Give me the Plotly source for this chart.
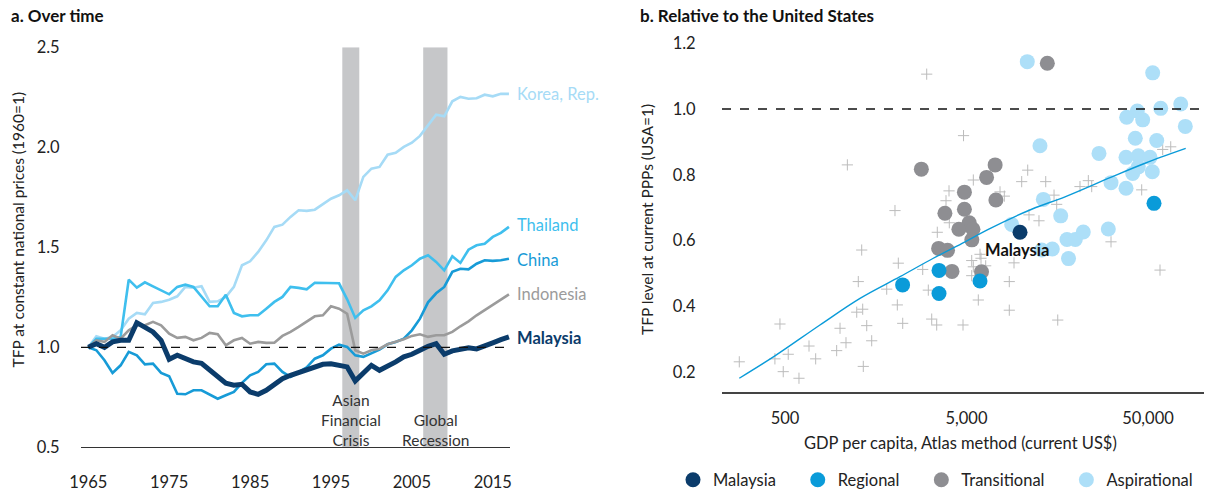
import plotly.graph_objects as go

FONT = "Lato"

# ---------------- Panel a: TFP over time ----------------
years = list(range(1965, 2018))

korea = [1.0, 1.055, 1.043, 1.052, 1.085, 1.143, 1.172, 1.165, 1.222, 1.227,
         1.238, 1.255, 1.302, 1.298, 1.305, 1.227, 1.23, 1.252, 1.302, 1.41,
         1.43, 1.477, 1.535, 1.602, 1.613, 1.652, 1.685, 1.682, 1.688, 1.715,
         1.743, 1.76, 1.785, 1.735, 1.852, 1.893, 1.902, 1.963, 1.973, 2.002,
         2.023, 2.057, 2.11, 2.163, 2.155, 2.23, 2.252, 2.243, 2.245, 2.263,
         2.255, 2.268, 2.267]
thailand = [1.0, 1.043, 1.043, 1.043, 1.052, 1.338, 1.298, 1.325, 1.305, 1.285,
            1.265, 1.302, 1.313, 1.302, 1.255, 1.205, 1.205, 1.263, 1.172, 1.155,
            1.16, 1.16, 1.193, 1.227, 1.252, 1.302, 1.297, 1.29, 1.323, 1.323,
            1.323, 1.32, 1.24, 1.147, 1.185, 1.205, 1.235, 1.285, 1.352, 1.385,
            1.41, 1.443, 1.46, 1.427, 1.385, 1.455, 1.422, 1.488, 1.51, 1.518,
            1.552, 1.572, 1.602]
china = [1.0, 0.985, 0.935, 0.872, 0.91, 0.977, 0.96, 0.915, 0.918, 0.872,
         0.855, 0.768, 0.765, 0.785, 0.785, 0.765, 0.743, 0.76, 0.777, 0.822,
         0.86, 0.877, 0.915, 0.918, 0.877, 0.852, 0.877, 0.9, 0.943, 0.96,
         0.993, 1.013, 1.002, 0.96, 0.952, 0.968, 0.988, 1.015, 1.027, 1.043,
         1.085, 1.143, 1.225, 1.27, 1.302, 1.377, 1.393, 1.39, 1.418, 1.435,
         1.432, 1.435, 1.443]
indonesia = [1.0, 1.035, 1.027, 1.06, 1.043, 1.085, 1.11, 1.11, 1.127, 1.11,
             1.068, 1.047, 1.052, 1.035, 1.047, 1.072, 1.065, 1.01, 1.035, 1.047,
             1.018, 1.027, 1.022, 1.023, 1.057, 1.077, 1.102, 1.127, 1.155, 1.16,
             1.205, 1.193, 1.168, 0.985, 0.968, 0.985, 0.993, 1.015, 1.027, 1.04,
             1.057, 1.065, 1.052, 1.06, 1.06, 1.077, 1.105, 1.13, 1.16, 1.185,
             1.213, 1.238, 1.265]
malaysia = [1.0, 1.018, 1.0, 1.027, 1.035, 1.035, 1.123, 1.097, 1.077, 1.035,
            0.94, 0.96, 0.943, 0.927, 0.92, 0.885, 0.85, 0.82, 0.81, 0.815,
            0.777, 0.765, 0.785, 0.818, 0.843, 0.86, 0.875, 0.89, 0.905, 0.915,
            0.918, 0.91, 0.902, 0.832, 0.872, 0.91, 0.885, 0.905, 0.927, 0.952,
            0.965, 0.985, 1.005, 1.018, 0.965, 0.982, 0.993, 0.998, 0.992, 1.01,
            1.022, 1.038, 1.052]

crisis_start = [1996.4, 2006.4]
crisis_end = [1998.5, 2009.4]
crisis_labels = ["Asian<br>Financial<br>Crisis", "Global<br>Recession"]
crisis_label_y = [0.635, 0.5875]

left_yticks = [0.5, 1.0, 1.5, 2.0, 2.5]
left_xticks = [1965, 1975, 1985, 1995, 2005, 2015]

# ---------------- Panel b: relative to the US ----------------
mys_gdp = [9860]
mys_tfp = [0.625]

reg_gdp = [2223, 3528, 3528, 5935, 53960]
reg_tfp = [0.465, 0.509, 0.439, 0.477, 0.713]

tra_gdp = [2820, 4870, 7190, 6450, 7260, 3802, 4870, 5175, 4540, 5425, 5350,
           3510, 3930, 4160, 6050, 13940]
tra_tfp = [0.817, 0.747, 0.830, 0.792, 0.723, 0.683, 0.695, 0.654, 0.634, 0.634,
           0.602, 0.576, 0.570, 0.506, 0.505, 1.139]

asp_gdp = [10810, 53070, 43650, 38150, 46750, 58750, 75730, 80270, 42560, 55850,
           12700, 26850, 37830, 44220, 51290, 44220, 41180, 52800, 31270, 37830,
           13250, 16520, 8870, 17890, 19880, 22000, 30220, 12980, 14850, 18240]
asp_tfp = [1.144, 1.110, 0.994, 0.975, 0.967, 1.002, 1.015, 0.947, 0.911, 0.904,
           0.888, 0.865, 0.853, 0.858, 0.853, 0.824, 0.804, 0.809, 0.776, 0.759,
           0.725, 0.675, 0.649, 0.603, 0.603, 0.626, 0.635, 0.571, 0.574, 0.545]

oth_gdp = [3018, 4815, 1103, 4005, 3855, 2018, 4020, 5452, 10870, 10070, 13660,
           7650, 8080, 15180, 15700, 21100, 23450, 24480, 11050, 12540, 46160,
           60250, 66700, 3452, 1323, 2105, 2869, 1267, 1817, 3080, 2079, 1242,
           1340, 2226, 3216, 3426, 4783, 469, 1005, 1410, 678, 1084, 1502, 963,
           521, 440, 738, 280, 489, 597, 1350, 5935, 6010, 5342, 5452, 6378,
           5342, 9135, 8605, 5808, 8605, 15910, 58230, 31270]
oth_tfp = [1.106, 0.919, 0.830, 0.751, 0.721, 0.691, 0.654, 0.784, 0.814, 0.779,
           0.779, 0.748, 0.735, 0.738, 0.710, 0.764, 0.782, 0.764, 0.678, 0.660,
           0.754, 0.877, 0.885, 0.625, 0.571, 0.531, 0.512, 0.475, 0.452, 0.449,
           0.404, 0.382, 0.391, 0.348, 0.361, 0.343, 0.343, 0.346, 0.333, 0.341,
           0.279, 0.289, 0.295, 0.265, 0.254, 0.240, 0.240, 0.231, 0.201, 0.181,
           0.217, 0.558, 0.546, 0.539, 0.520, 0.523, 0.493, 0.532, 0.475, 0.419,
           0.388, 0.358, 0.510, 0.596]

trend_gdp = [280, 440, 779, 1295, 2151, 3282, 4907, 6594, 11430, 17450, 31150,
             48140, 80670]
trend_tfp = [0.181, 0.249, 0.343, 0.424, 0.490, 0.546, 0.596, 0.634, 0.695,
             0.733, 0.792, 0.835, 0.880]

right_xticks = [500, 5000, 50000]
right_xticktext = ["500", "5,000", "50,000"]
right_yticks = [0.2, 0.4, 0.6, 0.8, 1.0, 1.2]

# ---------------- colours ----------------
C_KOR = "#a6dbf6"
C_THA = "#3fbfee"
C_CHN = "#179bd7"
C_IDN = "#9b9b9b"
C_MYS = "#0b3c6b"
C_REG = "#0a9bd9"
C_TRA = "#8e8e92"
C_ASP = "#addff8"
TXT = "#222222"

W, H = 1210, 492
FS = 16.5   # base text size

def px(x):
    return x / W

def py(y):
    return (H - y) / H

fig = go.Figure()

series = [("Korea, Rep.", korea, C_KOR, 2.6),
          ("Thailand", thailand, C_THA, 2.6),
          ("China", china, C_CHN, 2.6),
          ("Indonesia", indonesia, C_IDN, 2.6),
          ("Malaysia", malaysia, C_MYS, 5)]
for name, vals, col, w in series:
    fig.add_trace(go.Scatter(x=years, y=vals, mode="lines", name=name,
                             line=dict(color=col, width=w), showlegend=False,
                             xaxis="x", yaxis="y", hoverinfo="skip"))

# crisis bars
for s, e in zip(crisis_start, crisis_end):
    fig.add_shape(type="rect", xref="x", yref="y", x0=s, x1=e, y0=0.5, y1=2.5,
                  fillcolor="#c6c7c9", line=dict(width=0), layer="below")
# 1.0 reference line (panel a)
fig.add_shape(type="line", xref="x domain", yref="y", x0=0, x1=1, y0=1, y1=1,
              line=dict(color="#111111", width=1.3, dash="dash"))

# end labels
label_info = [("Korea, Rep.", korea[-1], C_KOR, False),
              ("Thailand", thailand[-1] + 0.01, C_THA, False),
              ("China", china[-1] - 0.005, C_CHN, False),
              ("Indonesia", indonesia[-1], C_IDN, False),
              ("Malaysia", malaysia[-1] - 0.005, C_MYS, True)]
for txt, yv, col, bold in label_info:
    fig.add_annotation(x=years[-1], y=yv, xref="x", yref="y", xanchor="left",
                       yanchor="middle", xshift=6, showarrow=False,
                       text=f"<b>{txt}</b>" if bold else txt,
                       font=dict(family=FONT, size=FS, color=col))

for s, e, t, yv in zip(crisis_start, crisis_end, crisis_labels, crisis_label_y):
    fig.add_annotation(x=(s + e) / 2, y=yv, xref="x", yref="y", text=t,
                       showarrow=False, align="center", xanchor="center",
                       yanchor="middle",
                       font=dict(family=FONT, size=15.5, color="#333333"))

# ---------------- panel b traces ----------------
fig.add_trace(go.Scatter(x=oth_gdp, y=oth_tfp, mode="markers", showlegend=False,
                         marker=dict(symbol="cross-thin", size=8,
                                     line=dict(width=1, color="#bcbcbc")),
                         xaxis="x2", yaxis="y2", hoverinfo="skip"))
NB = "\u00a0" * 4
fig.add_trace(go.Scatter(x=tra_gdp, y=tra_tfp, mode="markers", name="Transitional" + NB,
                         marker=dict(size=15, color=C_TRA), legendrank=3,
                         xaxis="x2", yaxis="y2"))
fig.add_trace(go.Scatter(x=asp_gdp, y=asp_tfp, mode="markers", name="Aspirational",
                         marker=dict(size=15, color=C_ASP), legendrank=4,
                         xaxis="x2", yaxis="y2"))
fig.add_trace(go.Scatter(x=reg_gdp, y=reg_tfp, mode="markers", name="Regional" + NB,
                         marker=dict(size=15, color=C_REG), legendrank=2,
                         xaxis="x2", yaxis="y2"))
fig.add_trace(go.Scatter(x=mys_gdp, y=mys_tfp, mode="markers", name="Malaysia" + NB,
                         marker=dict(size=15, color=C_MYS), legendrank=1,
                         xaxis="x2", yaxis="y2"))
fig.add_trace(go.Scatter(x=trend_gdp, y=trend_tfp, mode="lines", showlegend=False,
                         line=dict(color=C_REG, width=1.4, shape="spline"),
                         xaxis="x2", yaxis="y2", hoverinfo="skip"))

fig.add_shape(type="line", xref="x2 domain", yref="y2", x0=0, x1=1, y0=1, y1=1,
              line=dict(color="#111111", width=1.3, dash="dash"))

fig.add_annotation(x=3.9772, y=0.571, xref="x2", yref="y2", text="<b>Malaysia</b>",
                   showarrow=False, xanchor="center", yanchor="middle",
                   font=dict(family=FONT, size=FS, color="#111111"))

# titles & axis titles
fig.add_annotation(x=px(9), y=py(15), xref="paper", yref="paper", xanchor="left",
                   yanchor="middle", showarrow=False, text="<b>a. Over time</b>",
                   font=dict(family=FONT, size=17, color="#111111"))
fig.add_annotation(x=px(638), y=py(15), xref="paper", yref="paper", xanchor="left",
                   yanchor="middle", showarrow=False,
                   text="<b>b. Relative to the United States</b>",
                   font=dict(family=FONT, size=17, color="#111111"))
fig.add_annotation(x=px(17.5), y=py(230), xref="paper", yref="paper", textangle=-90,
                   xanchor="center", yanchor="middle",
                   showarrow=False, text="TFP at constant national prices (1960=1)",
                   font=dict(family=FONT, size=15.5, color=TXT))
fig.add_annotation(x=px(647), y=py(219), xref="paper", yref="paper", textangle=-90,
                   xanchor="center", yanchor="middle",
                   showarrow=False, text="TFP level at current PPPs (USA=1)",
                   font=dict(family=FONT, size=15.5, color=TXT))
fig.add_annotation(x=px(960), y=py(443), xref="paper", yref="paper",
                   xanchor="center", yanchor="middle",
                   showarrow=False, text="GDP per capita, Atlas method (current US$)",
                   font=dict(family=FONT, size=FS, color=TXT))

tickfont = dict(family=FONT, size=FS, color=TXT)

fig.update_layout(
    width=W, height=H,
    margin=dict(l=0, r=0, t=0, b=0, autoexpand=False),
    paper_bgcolor="white", plot_bgcolor="white",
    font=dict(family=FONT, size=FS, color=TXT),
    xaxis=dict(domain=[px(81), px(510)], range=[1964.1, 2017.13],
               tickvals=left_xticks, showgrid=False, zeroline=False,
               showline=True, linecolor="#333333", linewidth=1.3,
               ticks="outside", ticklen=20, tickcolor="rgba(0,0,0,0)",
               tickfont=tickfont, automargin=False, anchor="y"),
    yaxis=dict(domain=[py(447.3), py(47.3)], range=[0.5, 2.5],
               tickvals=left_yticks, tickformat=".1f", showgrid=False,
               zeroline=False, showline=False, ticks="outside", ticklen=17,
               tickcolor="rgba(0,0,0,0)", tickfont=tickfont, automargin=False,
               anchor="x"),
    xaxis2=dict(domain=[px(722), px(1204)], type="log", range=[2.3519, 5.0075],
                tickvals=right_xticks, ticktext=right_xticktext, showgrid=False,
                zeroline=False, showline=True, linecolor="#444444", linewidth=1.5,
                ticks="outside", ticklen=10, tickcolor="rgba(0,0,0,0)",
                tickfont=tickfont, automargin=False, anchor="y2"),
    yaxis2=dict(domain=[py(392), py(35)], range=[0.13916, 1.2251],
                tickvals=right_yticks, tickformat=".1f", showgrid=False,
                zeroline=False, showline=False, ticks="outside", ticklen=22,
                tickcolor="rgba(0,0,0,0)", tickfont=tickfont, automargin=False,
                anchor="x2"),
    legend=dict(orientation="h", x=px(673), y=py(480), xanchor="left",
                yanchor="middle", font=dict(family=FONT, size=FS, color=TXT),
                bgcolor="rgba(0,0,0,0)", traceorder="normal"),
    showlegend=True,
)

fig.write_html("out.html",
               config={"displayModeBar": False},
               post_script="document.body.style.margin='0';"
                           "document.body.style.overflow='hidden';")
